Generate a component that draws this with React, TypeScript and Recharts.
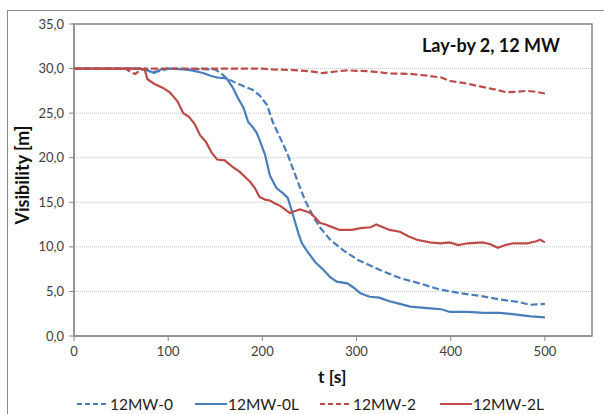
import { LineChart, Line, XAxis, YAxis, CartesianGrid, ReferenceArea } from "recharts";

const X_TICKS = [0, 100, 200, 300, 400, 500];
const Y_TICKS = [0, 5, 10, 15, 20, 25, 30, 35];

// [t, visibility] pairs
const MW_0: [number, number][] = [
  [0, 30], [75, 30], [82, 29.6], [90, 29.7], [100, 30], [150, 29.9], [156, 29.5], [162, 28.9],
  [176, 28.2], [190, 27.6], [197, 27.0], [205, 25.9], [211, 24.0], [219, 22.2], [226, 20.6],
  [232, 18.9], [238, 17.2], [245, 15.3], [254, 13.4], [261, 12.2], [272, 10.8], [286, 9.6],
  [302, 8.5], [325, 7.4], [346, 6.5], [367, 5.9], [389, 5.2], [410, 4.8], [431, 4.5],
  [452, 4.1], [473, 3.8], [484, 3.5], [500, 3.6],
];

const MW_0L: [number, number][] = [
  [0, 30], [70, 30], [78, 29.8], [85, 29.5], [92, 29.9], [100, 30], [116, 29.9], [125, 29.8],
  [137, 29.5], [145, 29.2], [152, 29.0], [162, 28.9], [169, 27.8], [174, 26.7], [180, 25.6],
  [185, 24.0], [190, 23.4], [194, 22.8], [197, 22.0], [203, 20.3], [208, 18.0], [215, 16.6],
  [222, 16.0], [227, 15.5], [233, 13.4], [238, 11.6], [242, 10.4], [247, 9.6], [256, 8.3],
  [265, 7.4], [272, 6.6], [279, 6.1], [290, 5.9], [296, 5.5], [304, 4.8], [314, 4.4],
  [324, 4.3], [335, 3.9], [346, 3.6], [357, 3.3], [378, 3.1], [390, 3.0], [399, 2.7],
  [418, 2.7], [435, 2.6], [452, 2.6], [470, 2.4], [485, 2.2], [500, 2.1],
];

const MW_2: [number, number][] = [
  [0, 30], [55, 30], [60, 29.6], [65, 29.4], [70, 29.8], [75, 30], [200, 30], [210, 29.9],
  [230, 29.85], [250, 29.7], [264, 29.5], [280, 29.7], [290, 29.8], [300, 29.75], [314, 29.7],
  [335, 29.45], [357, 29.4], [375, 29.2], [390, 29.0], [399, 28.6], [413, 28.4], [431, 28.0],
  [445, 27.7], [459, 27.35], [470, 27.4], [481, 27.5], [490, 27.4], [500, 27.2],
];

const MW_2L: [number, number][] = [
  [0, 30], [70, 30], [75, 29.9], [78, 28.8], [85, 28.3], [95, 27.8], [102, 27.3], [110, 26.3],
  [116, 25.0], [122, 24.6], [128, 23.8], [134, 22.5], [140, 21.8], [146, 20.6], [152, 19.8],
  [160, 19.7], [168, 19.0], [176, 18.4], [187, 17.3], [192, 16.6], [197, 15.6], [203, 15.3],
  [208, 15.2], [213, 14.9], [219, 14.6], [224, 14.2], [229, 13.8], [234, 14.0], [240, 14.2],
  [246, 14.0], [251, 13.8], [256, 13.3], [261, 12.7], [267, 12.5], [272, 12.3], [282, 11.9],
  [295, 11.9], [304, 12.1], [315, 12.2], [321, 12.5], [328, 12.2], [335, 11.9], [346, 11.7],
  [355, 11.2], [364, 10.8], [378, 10.5], [389, 10.4], [399, 10.5], [408, 10.2], [418, 10.4],
  [434, 10.5], [442, 10.3], [450, 9.9], [458, 10.2], [466, 10.4], [481, 10.4], [490, 10.6],
  [495, 10.8], [500, 10.5],
];

const BLUE = "#4A7EBB";
const RED = "#BE4B48";
const FONT = "Lato, 'Open Sans', sans-serif";

const SERIES = [
  { name: "12MW-0", points: MW_0, color: BLUE, dash: "7 3" },
  { name: "12MW-0L", points: MW_0L, color: BLUE, dash: undefined },
  { name: "12MW-2", points: MW_2, color: RED, dash: "7 3" },
  { name: "12MW-2L", points: MW_2L, color: RED, dash: undefined },
];

const toRows = (pts: [number, number][]) => pts.map(([t, v]) => ({ t, v }));
const fmt = (v: number) => v.toFixed(1).replace(".", ",");

export default function App() {
  return (
    <div style={{ position: "fixed", left: 0, top: 0, width: 604, height: 414, overflow: "hidden", background: "#fff", fontFamily: FONT }}>
      <div style={{ position: "absolute", left: 7, top: 10, width: 700, height: 500, border: "1.5px solid #8a8a8a" }} />
      <LineChart width={604} height={414} margin={{ top: 24, right: 12, bottom: 48, left: 0 }} style={{ position: "absolute", left: 0, top: 0 }}>
        <CartesianGrid vertical={false} stroke="#c4c4c4" strokeDasharray="1 1" />
        <XAxis
          type="number"
          dataKey="t"
          domain={[0, 550]}
          ticks={X_TICKS}
          allowDuplicatedCategory={false}
          height={30}
          tickSize={5}
          tickMargin={6}
          stroke="#868686"
          tick={{ fill: "#404040", fontSize: 13, fontFamily: FONT }}
        />
        <YAxis
          type="number"
          domain={[0, 35]}
          ticks={Y_TICKS}
          width={74}
          tickSize={5}
          tickMargin={5}
          tickFormatter={fmt}
          stroke="#868686"
          tick={{ fill: "#404040", fontSize: 13, fontFamily: FONT }}
        />
        <ReferenceArea x1={0} x2={550} y1={0} y2={35} fill="none" stroke="#868686" strokeWidth={1.5} />
        {SERIES.map((s) => (
          <Line
            key={s.name}
            data={toRows(s.points)}
            dataKey="v"
            name={s.name}
            type="linear"
            stroke={s.color}
            strokeWidth={2.2}
            strokeDasharray={s.dash}
            dot={false}
            activeDot={false}
            isAnimationActive={false}
          />
        ))}
      </LineChart>
      <div style={{ position: "absolute", left: 422, top: 34, fontSize: 18, fontWeight: 700, color: "#111", whiteSpace: "nowrap", lineHeight: "22px" }}>
        Lay-by 2, 12 MW
      </div>
      <div
        style={{
          position: "absolute",
          left: 22,
          top: 175,
          transform: "translate(-50%, -50%) rotate(-90deg)",
          fontSize: 18,
          fontWeight: 700,
          color: "#111",
          whiteSpace: "nowrap",
          lineHeight: "20px",
        }}
      >
        Visibility [m]
      </div>
      <div style={{ position: "absolute", left: 318, top: 366, fontSize: 17.5, fontWeight: 700, color: "#111", lineHeight: "22px" }}>t [s]</div>
      <div style={{ position: "absolute", left: 0, top: 395, width: 604, height: 18 }}>
        {SERIES.map((s, i) => {
          const x0 = [77, 195, 320, 440][i];
          return (
            <div key={s.name} style={{ position: "absolute", left: x0, top: 0, display: "flex", alignItems: "center", height: 18 }}>
              <svg width={32} height={6}>
                <line x1={0} y1={3} x2={32} y2={3} stroke={s.color} strokeWidth={2} strokeDasharray={s.dash ? "5 3" : undefined} />
              </svg>
              <span style={{ fontSize: 15.5, color: "#222", marginLeft: 1, lineHeight: "18px" }}>{s.name}</span>
            </div>
          );
        })}
      </div>
    </div>
  );
}
